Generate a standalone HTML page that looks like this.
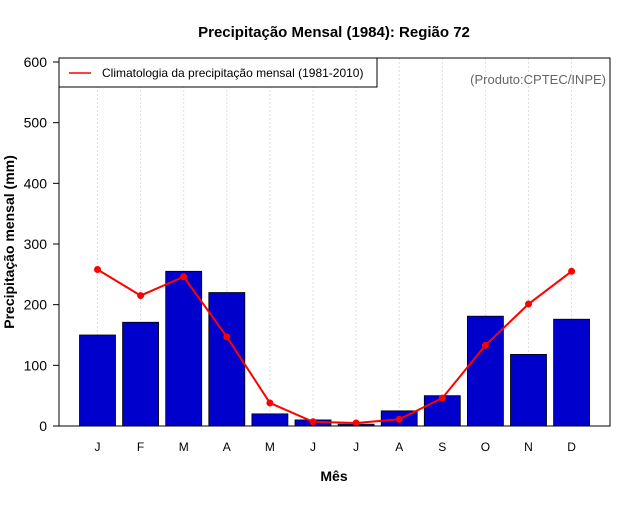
<!DOCTYPE html>
<html><head><meta charset="utf-8"><style>
body{margin:0;background:#fff;width:640px;height:500px;overflow:hidden}
svg{font-family:"Liberation Sans",sans-serif}
</style></head><body>
<svg id="chart" width="640" height="500"></svg>
<script>
const months=["J","F","M","A","M","J","J","A","S","O","N","D"];
const observed=[150,171,255,220,20,10,3,25,50,181,118,176];
const climatology=[258,215,246,147,38,7,5,11,46,133,201,255];
const yTicks=[0,100,200,300,400,500,600];
const NS="http://www.w3.org/2000/svg";
const svg=document.getElementById('chart');
const L=59,R=610,T=58,B=426;
const y=v=>426-v*(364/600);
const x=i=>97.5+i*43.1;
function mk(tag,attrs,text){const e=document.createElementNS(NS,tag);for(const k in attrs)e.setAttribute(k,attrs[k]);if(text!==undefined)e.textContent=text;svg.appendChild(e);return e;}
let e;
e=mk('text',{x:334,y:37,'text-anchor':'middle','font-size':15,'font-weight':'bold'},'Precipitação Mensal (1984): Região 72');


months.forEach((m,i)=>{
 e=mk('line',{x1:x(i),x2:x(i),y1:T,y2:B,stroke:'#ddd','stroke-dasharray':'2,2'});
 
 
});
observed.forEach((v,i)=>{
 e=mk('rect',{x:x(i)-18,y:y(v),width:36,height:B-y(v),fill:'#0000cd',stroke:'#000','stroke-width':0.8});
 
 
});
e=mk('polyline',{points:climatology.map((v,i)=>x(i)+','+y(v)).join(' '),fill:'none',stroke:'#f00','stroke-width':2});


climatology.forEach((v,i)=>{
 e=mk('circle',{cx:x(i),cy:y(v),r:3.5,fill:'#f00'});
 
 
});
e=mk('rect',{x:L,y:T,width:R-L,height:B-T,fill:'none',stroke:'#000','stroke-width':1});


yTicks.forEach(t=>{
 mk('line',{x1:L-6,x2:L,y1:y(t),y2:y(t),stroke:'#000'});
 e=mk('text',{x:L-12,y:y(t)+5,'text-anchor':'end','font-size':14},t);
 
 
});
months.forEach((m,i)=>{
 e=mk('text',{x:x(i),y:451,'text-anchor':'middle','font-size':12},m);
 
 
});
e=mk('text',{x:334,y:481,'text-anchor':'middle','font-size':14,'font-weight':'bold'},'Mês');


e=mk('text',{x:0,y:0,'text-anchor':'middle','font-size':14,'font-weight':'bold',transform:'translate(14,242) rotate(-90)'},'Precipitação mensal (mm)');


e=mk('rect',{x:L,y:T,width:318,height:29,fill:'#fff',stroke:'#000'});


mk('line',{x1:69,x2:91,y1:73,y2:73,stroke:'#f00','stroke-width':1.5});
e=mk('text',{x:102,y:77,'font-size':12},'Climatologia da precipitação mensal (1981-2010)');


e=mk('text',{x:606,y:84,'text-anchor':'end','font-size':13,fill:'#666'},'(Produto:CPTEC/INPE)');


</script>
</body></html>
